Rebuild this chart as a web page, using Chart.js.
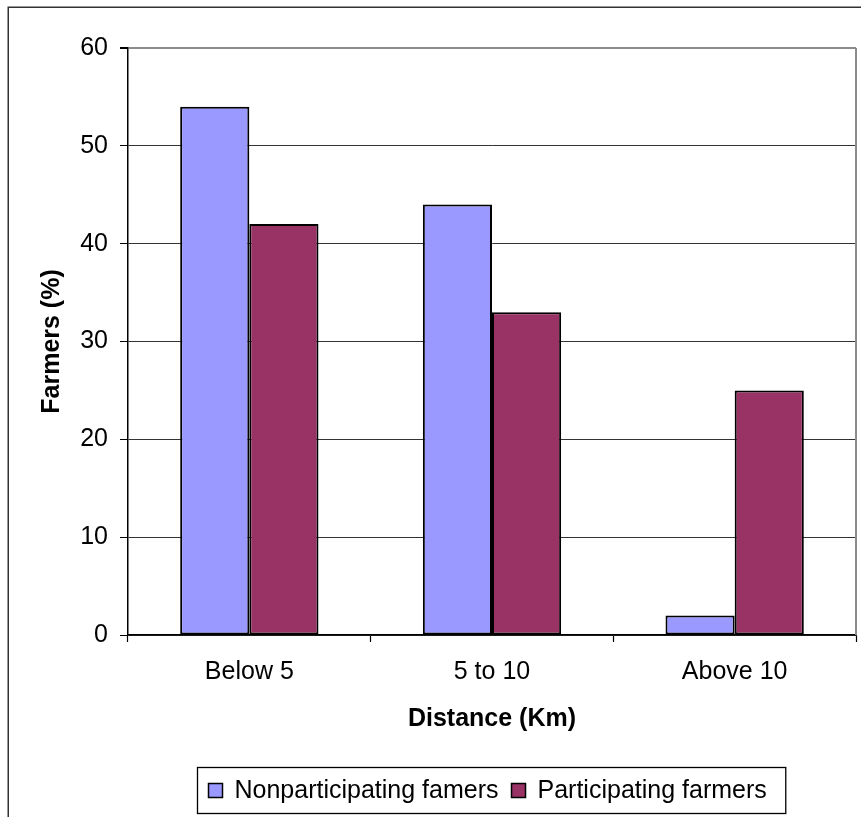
<!DOCTYPE html>
<html>
<head>
<meta charset="utf-8">
<title>Farmers by distance</title>
<script src="https://cdn.jsdelivr.net/npm/chart.js@4.4.1/dist/chart.umd.min.js"></script>
<style>
  html, body { margin: 0; padding: 0; background: #fff; }
  canvas { display: block; }
</style>
</head>
<body>
<canvas id="chart" width="861" height="817"></canvas>
<script>
// Distance bands (km) and share of farmers (%) in each band
const categories = ['Below 5', '5 to 10', 'Above 10'];
const seriesNames = ['Nonparticipating famers', 'Participating farmers'];
const nonparticipating = [54, 44, 2];
const participating = [42, 33, 25];
const yTicks = [0, 10, 20, 30, 40, 50, 60];

const FONT = '"Liberation Sans", Arial, Helvetica, sans-serif';
const COLORS = ['#9999ff', '#993366'];

// Outer frame, plot-area border and the boxed legend
const decorations = {
  id: 'decorations',
  beforeDraw(chart) {
    const ctx = chart.ctx;
    ctx.save();
    ctx.fillStyle = '#fff';
    ctx.fillRect(0, 0, chart.width, chart.height);
    ctx.restore();
  },
  afterDraw(chart) {
    const ctx = chart.ctx;
    const a = chart.chartArea;
    ctx.save();
    // plot-area border (right side)
    ctx.strokeStyle = '#8c8c8c';
    ctx.lineWidth = 2;
    ctx.beginPath();
    ctx.moveTo(a.right, a.top);
    ctx.lineTo(a.right, a.bottom);
    ctx.stroke();

    // outer frame
    ctx.strokeStyle = '#333';
    ctx.lineWidth = 1.5;
    ctx.strokeRect(8.25, 7.25, 1000, 1000);

    // legend
    ctx.font = '25px ' + FONT;
    ctx.textBaseline = 'middle';
    ctx.textAlign = 'left';
    const sq = 14, gapText = 13, gapItem = 12, padL = 11, padR = 18;
    const widths = chart.data.datasets.map(d => ctx.measureText(d.label).width);
    let content = 0;
    widths.forEach((w, i) => { content += sq + gapText + w + (i ? gapItem : 0); });
    const boxW = padL + content + padR;
    const boxH = 46;
    const cx = (a.left + a.right) / 2;
    const boxX = Math.round(cx - boxW / 2) - 0.5;
    const boxY = 767.5;
    ctx.strokeStyle = '#000';
    ctx.lineWidth = 1.3;
    ctx.strokeRect(boxX, boxY, boxW, boxH);
    const midY = boxY + boxH / 2;
    let x = boxX + padL;
    chart.data.datasets.forEach((d, i) => {
      if (i) x += gapItem;
      ctx.fillStyle = d.backgroundColor;
      ctx.fillRect(x, midY - sq / 2, sq, sq);
      ctx.lineWidth = 1.5;
      ctx.strokeStyle = '#000';
      ctx.strokeRect(x, midY - sq / 2, sq, sq);
      x += sq + gapText;
      ctx.fillStyle = '#000';
      ctx.fillText(d.label, x - 1, midY + 1);
      x += widths[i];
    });
    ctx.restore();
  }
};

new Chart(document.getElementById('chart'), {
  type: 'bar',
  data: {
    labels: categories,
    datasets: [
      { label: seriesNames[0], data: nonparticipating, backgroundColor: COLORS[0] },
      { label: seriesNames[1], data: participating, backgroundColor: COLORS[1] }
    ].map(d => Object.assign(d, {
      borderColor: '#000',
      borderWidth: 2,
      borderSkipped: false,
      categoryPercentage: 0.57,
      barPercentage: 1.0
    }))
  },
  options: {
    responsive: false,
    animation: false,
    devicePixelRatio: 1,
    layout: { padding: { top: 48, right: 5, left: 0, bottom: 0 } },
    plugins: {
      legend: { display: false },
      tooltip: { enabled: false }
    },
    scales: {
      x: {
        offset: true,
        grid: {
          offset: true,
          drawOnChartArea: false,
          drawTicks: true,
          tickLength: 7,
          tickColor: '#000',
          tickWidth: 1.2
        },
        border: { color: '#000', width: 1.5 },
        ticks: {
          color: '#000',
          padding: 15,
          maxRotation: 0,
          font: { family: FONT, size: 25 }
        },
        title: {
          display: true,
          text: 'Distance (Km)',
          color: '#000',
          font: { family: FONT, size: 25, weight: 'bold' },
          padding: { top: 0, bottom: 83 }
        },
        afterFit(scale) { scale.height = 182; }
      },
      y: {
        min: 0,
        max: 60,
        afterBuildTicks(scale) { scale.ticks = yTicks.map(v => ({ value: v })); },
        grid: {
          color: ctx => (ctx.tick && ctx.tick.value === 60 ? '#8c8c8c' : '#333'),
          lineWidth: ctx => (ctx.tick && ctx.tick.value === 60 ? 2 : 1),
          drawTicks: true,
          tickLength: 8,
          tickColor: '#000'
        },
        border: { color: '#000', width: 1.5 },
        ticks: {
          color: '#000',
          padding: 12,
          font: { family: FONT, size: 25 }
        },
        title: {
          display: true,
          text: 'Farmers (%)',
          color: '#000',
          font: { family: FONT, size: 25, weight: 'bold' },
          padding: { top: 37.5, bottom: 0 }
        },
        afterFit(scale) { scale.width = 128; }
      }
    }
  },
  plugins: [decorations]
});
</script>
</body>
</html>
